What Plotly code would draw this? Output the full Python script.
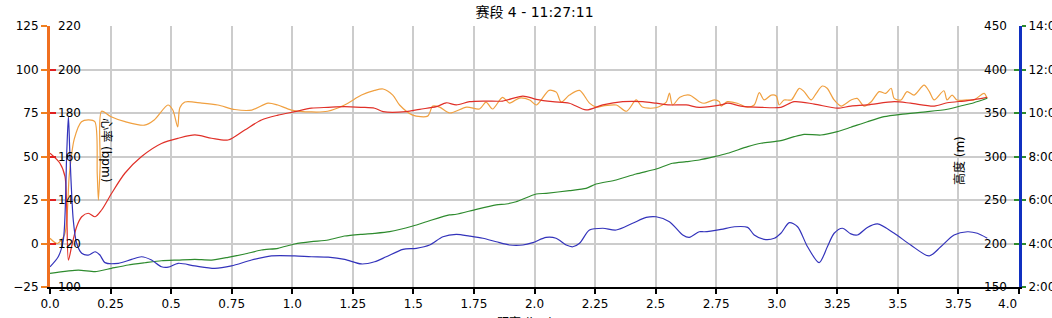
import plotly.graph_objects as go

# ---------------- data ----------------
x_ticks = [0, 0.25, 0.5, 0.75, 1.0, 1.25, 1.5, 1.75, 2.0, 2.25, 2.5, 2.75, 3.0, 3.25, 3.5, 3.75, 4.0]
x_tick_labels = ["0.0", "0.25", "0.5", "0.75", "1.0", "1.25", "1.5", "1.75", "2.0", "2.25",
                 "2.5", "2.75", "3.0", "3.25", "3.5", "3.75", "4.0"]

# orange series (left primary axis, -25..125)
orange_x = [0.0, 0.03, 0.06, 0.08, 0.1, 0.13, 0.16, 0.185, 0.195, 0.2, 0.207, 0.213, 0.25, 0.31, 0.39,
            0.43, 0.487, 0.507, 0.527, 0.536, 0.557, 0.627, 0.693, 0.763, 0.833, 0.9, 0.94, 0.997,
            1.08, 1.146, 1.216, 1.286, 1.34, 1.375, 1.415, 1.443, 1.497, 1.559, 1.58, 1.608, 1.65,
            1.72, 1.773, 1.8, 1.827, 1.868, 1.897, 1.938, 1.98, 2.008, 2.06, 2.09, 2.11, 2.144, 2.186,
            2.227, 2.255, 2.28, 2.338, 2.38, 2.42, 2.445, 2.5, 2.544, 2.557, 2.57, 2.6, 2.64, 2.68,
            2.70, 2.742, 2.763, 2.77, 2.796, 2.837, 2.878, 2.907, 2.928, 2.948, 2.977, 2.998, 3.01,
            3.03, 3.06, 3.093, 3.113, 3.142, 3.163, 3.188, 3.208, 3.237, 3.266, 3.307, 3.332, 3.36,
            3.39, 3.423, 3.45, 3.472, 3.485, 3.513, 3.538, 3.567, 3.608, 3.63, 3.65, 3.69, 3.703,
            3.724, 3.744, 3.786, 3.814, 3.856, 3.868]
orange_v = [3, 0, 5, 40, 60, 70, 71, 70, 40, 25, 45, 76, 73, 70, 68,
            71, 79.6, 76.7, 67, 78, 81.3, 80.7, 79.6, 77, 76.7, 80.7, 79.6, 76.7,
            75.6, 76, 79.6, 85.3, 88, 88.8, 85.3, 79.6, 73.8, 73.2, 79, 78.4, 75,
            78.4, 77.3, 81.3, 77.3, 84, 80.7, 83.6, 82.5, 79.6, 88, 87, 81.3, 85.3, 88,
            80.7, 78.4, 79, 79.6, 76, 82.5, 78.4, 78, 81.3, 86.5, 79.6, 84, 85.3, 81.5,
            80.6, 82.5, 81.5, 79, 81.5, 80.6, 78.3, 79.6, 86.7, 82.5, 85.3, 84.8, 79.6,
            82.5, 82.5, 89.2, 87.3, 82.5, 86.3, 90.5, 89.2, 82.5, 79, 82.5, 83.4, 79,
            81.5, 87.3, 86.3, 89.2, 83.4, 82.5, 87.3, 85.3, 91, 87.3, 82.5, 87.8, 82.5,
            85.3, 82.5, 82.5, 82.5, 86.3, 83.4]

# heart rate (bpm, 100..220 axis)
hr_x = [0, 0.041, 0.062, 0.076, 0.089, 0.11, 0.131, 0.158, 0.186, 0.213, 0.254, 0.309, 0.378, 0.46,
        0.53, 0.598, 0.667, 0.735, 0.804, 0.873, 0.941, 1.01, 1.079, 1.148, 1.216, 1.285, 1.34, 1.375,
        1.47, 1.526, 1.595, 1.636, 1.677, 1.732, 1.8, 1.869, 1.952, 2.007, 2.075, 2.144, 2.213, 2.282,
        2.364, 2.447, 2.502, 2.557, 2.626, 2.68, 2.77, 2.797, 2.852, 2.935, 3.017, 3.072, 3.155, 3.25,
        3.306, 3.374, 3.485, 3.553, 3.65, 3.704, 3.787, 3.869]
hr_v = [161.5, 156.9, 150.7, 112.4, 118.5, 127.7, 132.3, 133.9, 132.3, 135.4, 143, 152.3, 160, 166,
        168.4, 169.9, 168.4, 167.6, 172.2, 176.8, 179, 180.6, 182.2, 182.6, 182.9, 182.6, 182.2, 180.6,
        180.6, 181.7, 182.9, 184.7, 183.7, 185.2, 185.5, 185.5, 187.8, 186.3, 185.2, 184.5, 181.4, 183.7,
        185.2, 185.2, 184.5, 183.7, 183.7, 182.6, 183.7, 184.5, 183.2, 182.6, 182.6, 185.2, 184.1, 182.2,
        183.2, 183.7, 185.2, 184.5, 183.2, 184.7, 185.7, 187.2]

# altitude (m, 150..450 axis)
alt_x = [0, 0.117, 0.186, 0.254, 0.323, 0.392, 0.46, 0.529, 0.598, 0.667, 0.735, 0.804, 0.873, 0.941,
         1.01, 1.079, 1.148, 1.216, 1.285, 1.34, 1.402, 1.498, 1.567, 1.649, 1.677, 1.76, 1.842, 1.883,
         1.924, 2.007, 2.048, 2.144, 2.213, 2.254, 2.337, 2.419, 2.502, 2.57, 2.626, 2.68, 2.742, 2.797,
         2.88, 2.935, 3.017, 3.072, 3.113, 3.182, 3.25, 3.306, 3.374, 3.443, 3.512, 3.622, 3.704, 3.759,
         3.814, 3.869]
alt_v = [165.7, 169.5, 167.6, 171.5, 175.3, 177.9, 180.2, 181, 181.8, 181, 184.1, 187.9, 192.5, 194.5,
         199.4, 202.1, 204, 208.6, 210.6, 211.7, 213.6, 220.1, 226.2, 232.8, 233.6, 239.3, 244.3, 245.4,
         248, 256.9, 257.7, 260.7, 263.4, 268.4, 273, 279.9, 285.6, 292.2, 294, 296, 299.8, 303.7,
         311.3, 315.2, 318.2, 322.8, 325.5, 324.7, 328.5, 333.6, 340, 345.8, 348.5, 351.5, 354.3, 358,
         361.8, 366.9]

# pace (minutes, 2:00..14:00 axis)
pace_x = [0, 0.034, 0.055, 0.069, 0.076, 0.082, 0.096, 0.11, 0.131, 0.158, 0.186, 0.206, 0.227, 0.282,
          0.337, 0.378, 0.419, 0.46, 0.488, 0.529, 0.598, 0.68, 0.749, 0.832, 0.914, 1.01, 1.079, 1.148,
          1.216, 1.285, 1.34, 1.388, 1.457, 1.512, 1.567, 1.622, 1.677, 1.732, 1.787, 1.842, 1.897, 1.952,
          1.993, 2.048, 2.089, 2.131, 2.158, 2.186, 2.227, 2.282, 2.337, 2.405, 2.461, 2.502, 2.557, 2.612,
          2.639, 2.68, 2.701, 2.77, 2.825, 2.88, 2.907, 2.948, 2.99, 3.017, 3.052, 3.086, 3.127, 3.175,
          3.209, 3.237, 3.271, 3.306, 3.333, 3.374, 3.416, 3.485, 3.553, 3.629, 3.677, 3.732, 3.787, 3.828,
          3.869]
pace_v = [2.93, 3.39, 4.16, 8.15, 9.83, 8.15, 5.08, 4.01, 3.55, 3.47, 3.62, 3.47, 3.12, 3.09,
          3.27, 3.39, 3.24, 2.93, 2.91, 3.09, 2.97, 2.86, 2.97, 3.24, 3.43, 3.43, 3.39, 3.37,
          3.27, 3.06, 3.16, 3.39, 3.73, 3.78, 3.93, 4.31, 4.42, 4.34, 4.24, 4.08, 3.93, 3.93,
          4.04, 4.28, 4.24, 3.93, 3.85, 4.01, 4.62, 4.7, 4.62, 4.93, 5.2, 5.23, 5.0, 4.39,
          4.28, 4.54, 4.54, 4.65, 4.77, 4.74, 4.39, 4.19, 4.24, 4.47, 4.96, 4.77, 3.85, 3.12,
          3.85, 4.47, 4.7, 4.44, 4.39, 4.74, 4.9, 4.47, 3.93, 3.43, 3.85, 4.39, 4.54, 4.47,
          4.24]

hr_ticks = [100, 120, 140, 160, 180, 200, 220]
alt_ticks = [150, 200, 250, 300, 350, 400, 450]
pace_ticks = [2, 4, 6, 8, 10, 12, 14]
pace_tick_labels = ["2:00", "4:00", "6:00", "8:00", "10:00", "12:00", "14:00"]

title_text = "赛段 4 - 11:27:11"
hr_title = "心率 (bpm)"
alt_title = "高度 (m)"
x_title = "距离 (km)"

# ---------------- figure ----------------
FONT = "DejaVu Sans, Noto Sans CJK SC, sans-serif"
GRID = "#cccccc"

fig = go.Figure()
fig.add_trace(go.Scatter(x=orange_x, y=orange_v, mode="lines", yaxis="y",
                         line=dict(color="#f0a040", width=1.2, shape="spline", smoothing=0.8)))
fig.add_trace(go.Scatter(x=alt_x, y=alt_v, mode="lines", yaxis="y3",
                         line=dict(color="#2e8b2e", width=1.2, shape="spline", smoothing=0.6)))
fig.add_trace(go.Scatter(x=pace_x, y=pace_v, mode="lines", yaxis="y4",
                         line=dict(color="#3333bb", width=1.2, shape="spline", smoothing=0.8)))
fig.add_trace(go.Scatter(x=hr_x, y=hr_v, mode="lines", yaxis="y2",
                         line=dict(color="#e03028", width=1.2, shape="spline", smoothing=0.8)))

annotations = []
# HR tick labels, just inside the left axis line
for v in hr_ticks:
    annotations.append(dict(text=str(v), x=0, xref="paper", y=v, yref="y2",
                            xanchor="left", yanchor="middle", xshift=6, showarrow=False,
                            font=dict(size=12, color="black")))
# altitude tick labels, just inside the right axis line
for v in alt_ticks:
    annotations.append(dict(text=str(v), x=1, xref="paper", y=v, yref="y3",
                            xanchor="right", yanchor="middle", xshift=-10, showarrow=False,
                            font=dict(size=12, color="black")))
annotations += [
    dict(text=hr_title, textangle=90, x=0.23, xref="x", y=0.525, yref="paper",
         xanchor="center", yanchor="middle", showarrow=False,
         font=dict(size=12, color="black")),
    dict(text=alt_title, textangle=-90, x=3.757, xref="x", y=0.483, yref="paper",
         xanchor="center", yanchor="middle", showarrow=False,
         font=dict(size=12, color="black")),
    dict(text=x_title, x=0.49, xref="paper", y=-0.1, yref="paper",
         xanchor="center", yanchor="top", showarrow=False,
         font=dict(size=12, color="black")),
]

x_text = list(x_tick_labels)
x_text[-1] = x_text[-1] + "\u00a0" * 6

fig.update_layout(
    width=1052, height=318,
    margin=dict(l=50, r=33, t=26, b=31),
    paper_bgcolor="white", plot_bgcolor="white",
    showlegend=False,
    font=dict(family=FONT, size=12, color="black"),
    title=dict(text=title_text, x=0.5, xref="paper", xanchor="center",
               y=1 - 12 / 318, yref="container", yanchor="middle",
               font=dict(size=14, color="black")),
    xaxis=dict(range=[0, 4], tickvals=x_ticks, ticktext=x_text,
               showgrid=True, gridcolor=GRID, gridwidth=1.5,
               showline=True, linecolor="black", linewidth=2,
               ticks="outside", ticklen=5, tickwidth=2, tickcolor="black",
               zeroline=False, automargin=False, mirror=False,
               tickfont=dict(size=12)),
    yaxis=dict(range=[-25, 125], dtick=25, tick0=0,
               showgrid=True, gridcolor=GRID, gridwidth=1.5,
               showline=True, linecolor="#f07020", linewidth=3,
               ticks="outside", ticklen=6, tickwidth=2, tickcolor="#f08020",
               zeroline=False, automargin=False, tickfont=dict(size=12)),
    yaxis2=dict(range=[100, 220], tickvals=hr_ticks, overlaying="y", side="left", anchor="x",
                showgrid=False, showline=False, zeroline=False, showticklabels=False,
                ticks="inside", ticklen=6, tickwidth=2, tickcolor="#e02020",
                automargin=False),
    yaxis3=dict(range=[150, 450], tickvals=alt_ticks, overlaying="y", side="right", anchor="x",
                showgrid=False, showline=False, zeroline=False, showticklabels=False,
                ticks="inside", ticklen=5, tickwidth=2, tickcolor="#2e8b2e",
                automargin=False),
    yaxis4=dict(range=[2, 14], tickvals=pace_ticks, ticktext=pace_tick_labels,
                overlaying="y", side="right", anchor="x",
                showgrid=False, zeroline=False,
                showline=True, linecolor="#1030c0", linewidth=3,
                ticks="outside", ticklen=4, tickwidth=2, tickcolor="#2e8b2e",
                automargin=False, tickfont=dict(size=12)),
    annotations=annotations,
)

fig.write_html("out.html")
